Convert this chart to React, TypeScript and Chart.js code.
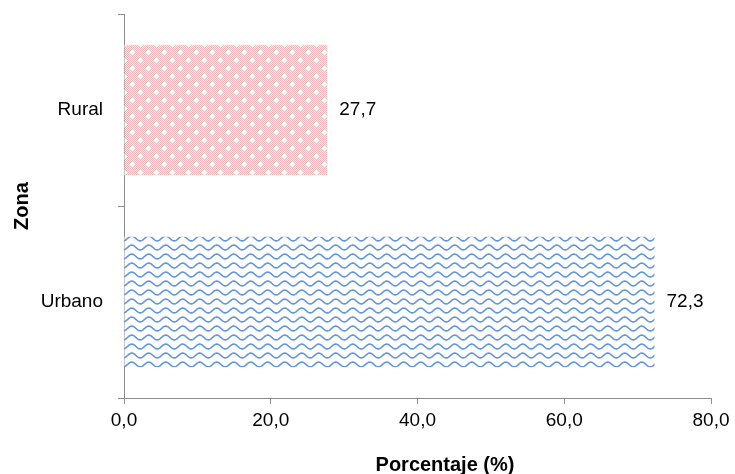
import React, { useEffect, useRef } from "react";
import { Chart, registerables } from "chart.js";

Chart.register(...registerables);

const categories = ["Rural", "Urbano"];
const values = [27.7, 72.3];
const valueLabels = ["27,7", "72,3"];
const xTicks = [0, 20, 40, 60, 80];
const xTitle = "Porcentaje (%)";
const yTitle = "Zona";

function pinkPattern(): CanvasPattern | string {
  const c = document.createElement("canvas");
  c.width = 16;
  c.height = 16;
  const g = c.getContext("2d");
  if (!g) return "#f0c0c0";
  g.fillStyle = "#fbe8e8";
  g.fillRect(0, 0, 16, 16);
  g.fillStyle = "#efb7ba";
  for (let x = 0; x < 16; x++) for (let y = 0; y < 16; y++) if ((x + y) % 2 === 0) g.fillRect(x, y, 1, 1);
  g.fillStyle = "#ffffff";
  const dots = [
    [4, 4],
    [12, 12],
  ];
  for (const [x, y] of dots) {
    g.fillRect(x - 1, y - 1, 3, 3);
    g.fillRect(x - 2, y, 5, 1);
    g.fillRect(x, y - 2, 1, 5);
  }
  return g.createPattern(c, "repeat") || "#f0c0c0";
}

function wavePattern(): CanvasPattern | string {
  const c = document.createElement("canvas");
  const w = 17;
  const h = 9;
  c.width = w;
  c.height = h;
  const g = c.getContext("2d");
  if (!g) return "#6a9ad8";
  g.fillStyle = "#ffffff";
  g.fillRect(0, 0, w, h);
  g.strokeStyle = "#6496dc";
  g.lineWidth = 1.6;
  for (const off of [-h, 0, h]) {
    g.beginPath();
    for (let x = -1; x <= w + 1; x += 0.5) {
      const y = 4.5 + off + 2.4 * Math.sin((x / w) * Math.PI * 2);
      if (x === -1) g.moveTo(x, y);
      else g.lineTo(x, y);
    }
    g.stroke();
  }
  return g.createPattern(c, "repeat") || "#6a9ad8";
}

const labelPlugin = {
  id: "valueLabels",
  afterDatasetsDraw(chart: any) {
    const ctx = chart.ctx;
    const meta = chart.getDatasetMeta(0);
    ctx.save();
    ctx.font = "19px 'Liberation Sans', Arial, sans-serif";
    ctx.fillStyle = "#000";
    ctx.textAlign = "left";
    ctx.textBaseline = "middle";
    meta.data.forEach((bar: any, i: number) => {
      ctx.fillText(valueLabels[i], bar.x + 12, bar.y);
    });
    ctx.font = "bold 20px 'Liberation Sans', Arial, sans-serif";
    ctx.textAlign = "center";
    ctx.fillText(xTitle, 445, 465);
    ctx.restore();
  },
};

export default function App() {
  const ref = useRef<HTMLCanvasElement>(null);
  useEffect(() => {
    if (!ref.current) return;
    const font = { family: "'Liberation Sans', Arial, sans-serif", size: 19 };
    const titleFont = { family: "'Liberation Sans', Arial, sans-serif", size: 20, weight: "bold" as const, lineHeight: 0.9 };
    const chart = new Chart(ref.current, {
      type: "bar",
      data: {
        labels: categories,
        datasets: [
          {
            data: values,
            backgroundColor: [pinkPattern(), wavePattern()] as any,
            borderWidth: 0,
            barPercentage: 0.68,
            categoryPercentage: 1,
          },
        ],
      },
      options: {
        indexAxis: "y",
        animation: false,
        responsive: false,
        maintainAspectRatio: false,
        layout: { padding: { top: 14, right: 24, left: 0, bottom: 0 } },
        plugins: { legend: { display: false }, tooltip: { enabled: false } },
        scales: {
          x: {
            min: 0,
            max: 80,
            afterBuildTicks: (axis: any) => {
              axis.ticks = xTicks.map((v) => ({ value: v }));
            },
            afterFit: (axis: any) => {
              axis.height = 76;
            },
            grid: { drawOnChartArea: false, drawTicks: true, tickLength: 6, color: "#8c8c8c" },
            border: { color: "#8c8c8c", width: 1 },
            ticks: {
              color: "#000",
              font,
              padding: 5,
              maxRotation: 0,
              callback: (v: any) => Number(v).toFixed(1).replace(".", ","),
            },
          },
          y: {
            afterFit: (axis: any) => {
              axis.width = 124;
              axis.paddingTop = 0;
              axis.paddingBottom = 0;
            },
            grid: { drawOnChartArea: false, drawTicks: true, tickLength: 6, color: "#8c8c8c", offset: true },
            border: { color: "#8c8c8c", width: 1 },
            ticks: { color: "#000", font, padding: 15 },
            title: {
              display: true,
              text: yTitle,
              color: "#000",
              font: titleFont,
              padding: { top: 13, bottom: 0 },
            },
          },
        },
      },
      plugins: [labelPlugin],
    });
    return () => chart.destroy();
  }, []);
  return (
    <div style={{ position: "absolute", left: 0, top: 0, width: 735, height: 474, background: "#fff" }}>
      <canvas ref={ref} width={735} height={474} style={{ width: 735, height: 474 }} />
    </div>
  );
}
